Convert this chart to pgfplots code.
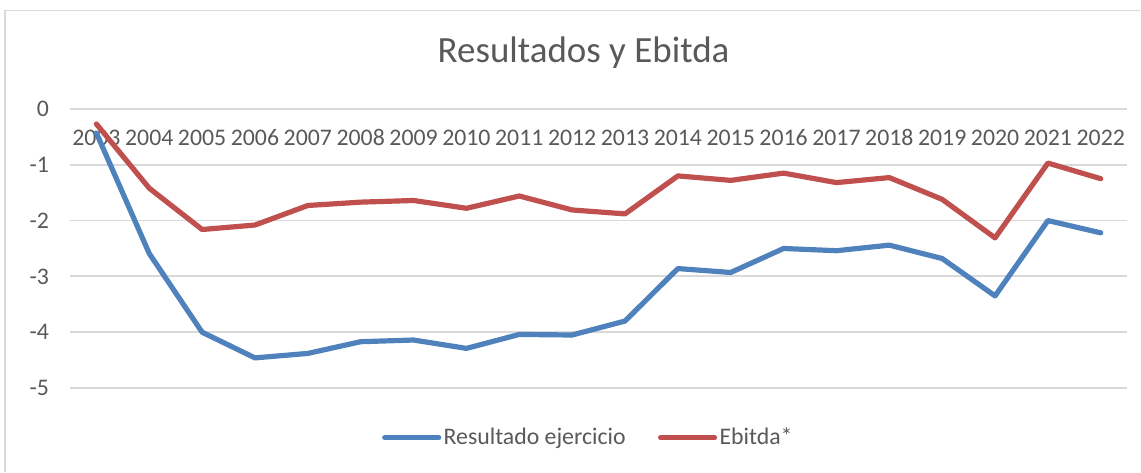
\documentclass[border=0pt]{standalone}
\usepackage{pgfplots}
\pgfplotsset{compat=1.18}
\usepackage{fontspec}
\setmainfont{Carlito}
\definecolor{exblue}{HTML}{4F81BD}
\definecolor{exred}{HTML}{C0504D}
\definecolor{exgrid}{HTML}{D9D9D9}
\definecolor{extext}{HTML}{595959}
\begin{document}
\begin{tikzpicture}
\path (0,0) rectangle (570.5pt,236pt);
\draw[exgrid, line width=0.8pt] (2.5pt,0) -- (2.5pt,230.7pt) -- (570.5pt,230.7pt);
\node[text=extext, font=\fontsize{18.5}{22}\selectfont] at (292pt,209.5pt) {Resultados y Ebitda};
\begin{axis}[
  set layers,
  at={(35pt,41.85pt)}, anchor=south west,
  scale only axis,
  width=529pt, height=139.65pt,
  xmin=-0.5, xmax=19.5,
  ymin=-5, ymax=0,
  xtick={0,...,19},
  xticklabels={2003,2004,2005,2006,2007,2008,2009,2010,2011,2012,2013,2014,2015,2016,2017,2018,2019,2020,2021,2022},
  ytick={-5,-4,-3,-2,-1,0},
  yticklabels={-5,-4,-3,-2,-1,0},
  xticklabel pos=upper,
  xticklabel style={anchor=north, text height=7.5pt, text depth=0pt, yshift=-7.35pt},
  yticklabel style={anchor=east, xshift=-7pt},
  tick label style={text=extext, font=\fontsize{11.9}{14}\selectfont},
  major tick length=0pt,
  axis line style={draw=none},
  ymajorgrids,
  grid style={exgrid, line width=0.9pt},
  legend style={at={(0.4905,-0.178)}, anchor=center, draw=none, fill=none,
    legend columns=2, font=\fontsize{11.9}{14}\selectfont, text=extext,
    nodes={inner sep=1.2pt},
    /tikz/every even column/.append style={column sep=15pt}},
  legend image code/.code={\draw[#1, line cap=round] (0pt,0pt) -- (27pt,0pt);},
]
\addplot[exblue, line width=2.6pt, line join=round, line cap=round] coordinates {
(0,-0.43) (1,-2.59) (2,-4.00) (3,-4.46) (4,-4.38) (5,-4.17) (6,-4.14) (7,-4.29) (8,-4.04) (9,-4.05)
(10,-3.80) (11,-2.86) (12,-2.93) (13,-2.50) (14,-2.54) (15,-2.44) (16,-2.68) (17,-3.35) (18,-2.00) (19,-2.22)};
\addlegendentry{Resultado ejercicio}
\addplot[exred, line width=2.6pt, line join=round, line cap=round] coordinates {
(0,-0.27) (1,-1.42) (2,-2.16) (3,-2.08) (4,-1.73) (5,-1.67) (6,-1.64) (7,-1.78) (8,-1.56) (9,-1.81)
(10,-1.88) (11,-1.20) (12,-1.28) (13,-1.15) (14,-1.32) (15,-1.23) (16,-1.62) (17,-2.31) (18,-0.97) (19,-1.25)};
\addlegendentry{Ebitda*}
\end{axis}
\end{tikzpicture}
\end{document}
